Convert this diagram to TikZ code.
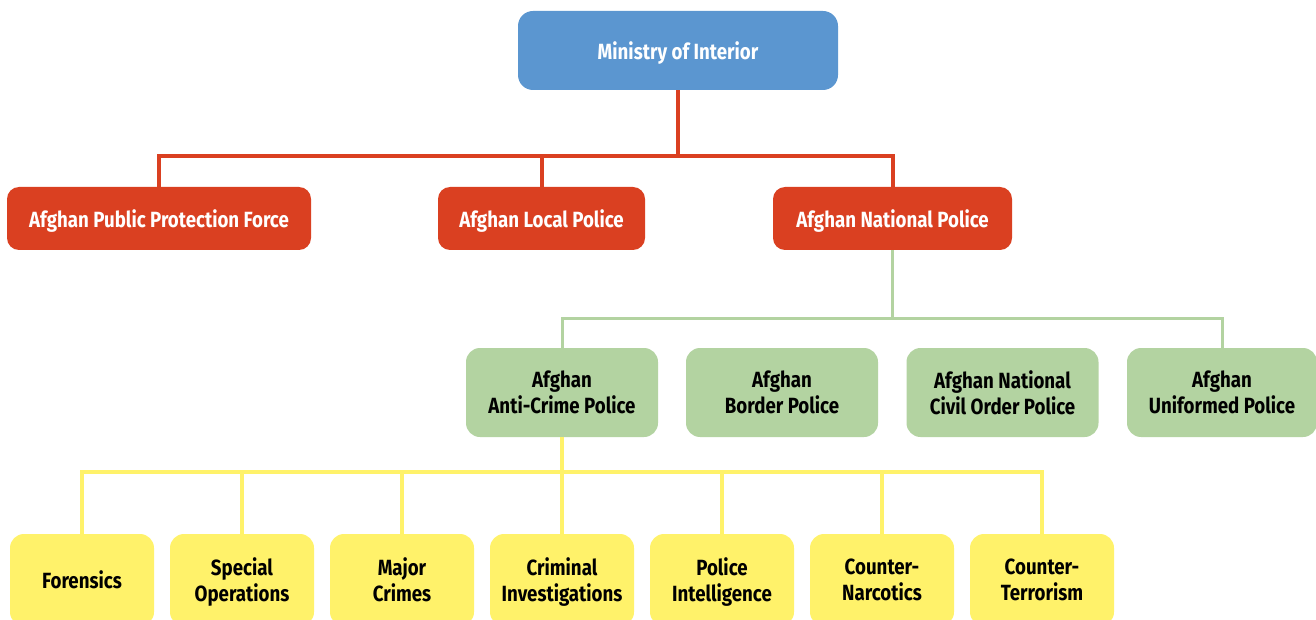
\documentclass[tikz,border=0pt]{standalone}
\usepackage{fontspec}
\newfontfamily\chartfont{Fira Sans}[FakeStretch=0.85]
\definecolor{moiblue}{HTML}{5B96D0}
\definecolor{anpred}{HTML}{DA4021}
\definecolor{polgreen}{HTML}{B3D3A1}
\definecolor{unityellow}{HTML}{FFF26A}
\begin{document}
\begin{tikzpicture}[x=1pt,y=-1pt,
  basebox/.style={rectangle, inner sep=0pt, align=center, text depth=0pt, font=\chartfont\bfseries\fontsize{22}{26}\selectfont},
  bluebox/.style={basebox, fill=moiblue, text=white, rounded corners=15pt, minimum width=320pt, minimum height=79pt},
  redbox/.style={basebox, fill=anpred, text=white, rounded corners=12pt, minimum height=63pt},
  greenbox/.style={basebox, fill=polgreen, text=black, rounded corners=14pt, minimum width=192pt, minimum height=89pt},
  yellowbox/.style={basebox, fill=unityellow, text=black, rounded corners=14pt, minimum width=144pt, minimum height=92pt},
  redline/.style={draw=anpred, line width=4pt},
  greenline/.style={draw=polgreen, line width=3pt},
  yellowline/.style={draw=unityellow, line width=3.5pt}
]
\useasboundingbox (0,0) rectangle (1316,620);
\clip (0,0) rectangle (1316,620);
% top
\node[bluebox] (moi) at (678,50.5) {Ministry of Interior};
% red row
\node[redbox, minimum width=304pt] (appf) at (159,218.5) {Afghan Public Protection Force};
\node[redbox, minimum width=207pt] (alp) at (541.5,218.5) {Afghan Local Police};
\node[redbox, minimum width=239pt] (anp) at (892.5,218.5) {Afghan National Police};
% green row
\node[greenbox] (aacp) at (562,392.5) {Afghan\\Anti-Crime Police};
\node[greenbox] (abp) at (782,392.5) {Afghan\\Border Police};
\node[greenbox] (ancop) at (1002.5,392.5) {Afghan National\\Civil Order Police};
\node[greenbox, minimum width=190pt] (aup) at (1222,392.5) {Afghan\\Uniformed Police};
% yellow row
\node[yellowbox] (for) at (82,580) {Forensics};
\node[yellowbox] (spo) at (242,580) {Special\\Operations};
\node[yellowbox] (maj) at (402,580) {Major\\Crimes};
\node[yellowbox] (cri) at (562,580) {Criminal\\Investigations};
\node[yellowbox] (pin) at (722,580) {Police\\Intelligence};
\node[yellowbox] (cna) at (882,580) {Counter-\\Narcotics};
\node[yellowbox] (cte) at (1042,580) {Counter-\\Terrorism};
% connectors
\coordinate (rbar) at (678,156);
\coordinate (gbar) at (892,318);
\coordinate (ybar) at (562,472);
\draw[redline] (moi.south) -- (moi.south |- rbar);
\draw[redline] (appf.north) -- (appf.north |- rbar) -- (anp.north |- rbar) -- (anp.north);
\draw[redline] (alp.north) -- (alp.north |- rbar);
\draw[greenline] (anp.south) -- (anp.south |- gbar);
\draw[greenline] (aacp.north) -- (aacp.north |- gbar) -- (aup.north |- gbar) -- (aup.north);
\draw[yellowline] (aacp.south) -- (aacp.south |- ybar);
\draw[yellowline] (for.north) -- (for.north |- ybar) -- (cte.north |- ybar) -- (cte.north);
\foreach \n in {spo,maj,cri,pin,cna}
  \draw[yellowline] (\n.north) -- (\n.north |- ybar);
\end{tikzpicture}
\end{document}
